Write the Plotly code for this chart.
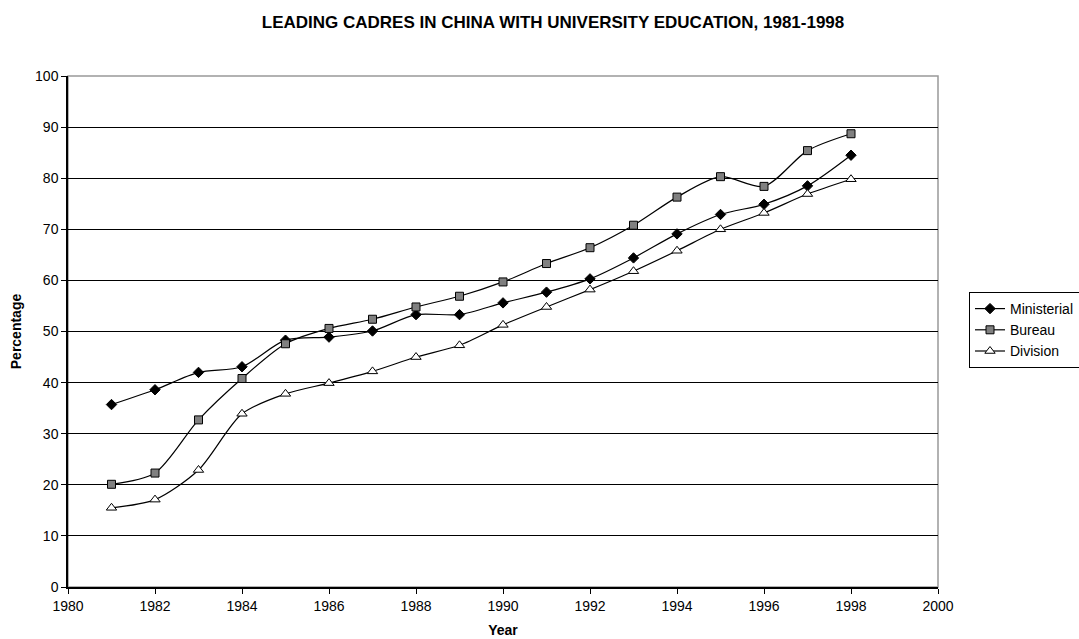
import plotly.graph_objects as go

years = list(range(1981, 1999))

ministerial = [35.7, 38.6, 42.0, 43.1, 48.3, 48.9, 50.1, 53.3, 53.3, 55.6,
               57.7, 60.3, 64.4, 69.1, 72.9, 74.9, 78.5, 84.5]
bureau = [20.1, 22.3, 32.7, 40.8, 47.6, 50.6, 52.4, 54.8, 56.9, 59.7,
          63.3, 66.4, 70.8, 76.3, 80.3, 78.4, 85.4, 88.7]
division = [15.5, 17.1, 22.9, 33.9, 37.8, 39.9, 42.2, 45.0, 47.3, 51.3,
            54.8, 58.2, 61.8, 65.8, 70.0, 73.2, 76.9, 79.8]

FONT = "Liberation Sans, Arial, sans-serif"

fig = go.Figure()

series = [
    ("Ministerial", ministerial, dict(symbol="diamond", size=8, color="black",
                                      line=dict(color="black", width=1))),
    ("Bureau", bureau, dict(symbol="square", size=8, color="#808080",
                            line=dict(color="black", width=1))),
    ("Division", division, dict(symbol="triangle-up", size=9, color="white",
                                line=dict(color="black", width=1))),
]

for name, vals, marker in series:
    fig.add_trace(go.Scatter(
        x=years, y=vals, name=name, mode="lines+markers",
        line=dict(color="black", width=1.2, shape="spline", smoothing=0.8),
        marker=marker,
    ))

# gray plot-area frame
fig.add_shape(type="rect", xref="paper", yref="paper", x0=0, y0=0, x1=1, y1=1,
              line=dict(color="#999999", width=1.5), layer="below")

fig.update_layout(
    width=1079, height=639,
    margin=dict(l=68, r=141, t=76, b=52, autoexpand=False),
    paper_bgcolor="white", plot_bgcolor="white",
    font=dict(family=FONT, size=14, color="black"),
    title=dict(text="<b>LEADING CADRES IN CHINA WITH UNIVERSITY EDUCATION, 1981-1998</b>",
               x=0.5575, xref="paper", xanchor="center", y=1 - 22 / 639, yanchor="middle",
               font=dict(family=FONT, size=17, color="black")),
    xaxis=dict(
        range=[1980, 2000], dtick=2, tick0=1980,
        showgrid=False, zeroline=False,
        showline=True, linecolor="black", linewidth=1.5,
        ticks="outside", ticklen=5, tickcolor="black",
        tickfont=dict(family=FONT, size=14),
        title=dict(text="<b>Year</b>", font=dict(family=FONT, size=14), standoff=13),
    ),
    yaxis=dict(
        range=[0, 100], dtick=10,
        showgrid=True, gridcolor="black", gridwidth=1,
        zeroline=False,
        showline=True, linecolor="black", linewidth=1.5,
        ticks="outside", ticklen=5, tickcolor="black",
        tickfont=dict(family=FONT, size=14),
        title=dict(text="<b>Percentage</b>", font=dict(family=FONT, size=14), standoff=10),
    ),
    legend=dict(
        xref="container", yref="container",
        x=969 / 1079, y=1 - 292 / 639, xanchor="left", yanchor="top",
        bordercolor="black", borderwidth=1, bgcolor="white",
        font=dict(family=FONT, size=14), tracegroupgap=0,
        itemwidth=30,
    ),
)

fig.write_html("out.html")
